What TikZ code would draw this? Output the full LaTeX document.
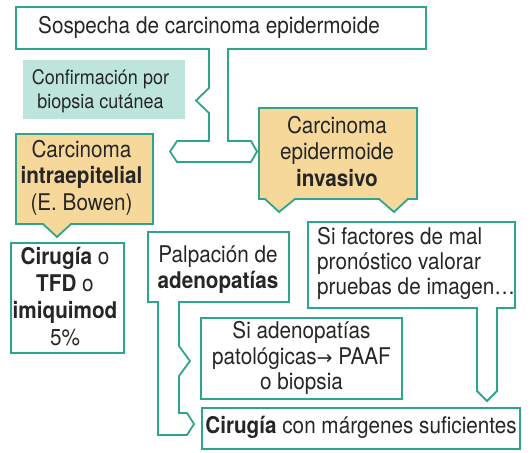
\documentclass[tikz,border=0pt]{standalone}
\usepackage{fontspec}
\setmainfont{TeX Gyre Heros}[FakeStretch=0.9]
\newfontfamily\arrowfont{DejaVu Sans}
\definecolor{tealline}{HTML}{2CA58C}
\definecolor{orangefill}{HTML}{F6D89A}
\definecolor{mintfill}{HTML}{BEE5DB}
\definecolor{ink}{HTML}{262626}
\begin{document}
\begin{tikzpicture}[x=1pt,y=-1pt,
  outline/.style={draw=tealline, line width=1.8pt, line join=miter},
  warmbox/.style={outline, fill=orangefill},
  plainbox/.style={outline, fill=white},
  txt/.style={inner sep=0pt, text=ink, align=center, font=\fontsize{23}{26.5}\selectfont}]
\useasboundingbox (0,0) rectangle (531,453);

% Confirmacion (filled, no border)
\fill[mintfill] (23,60) rectangle (185,119);

% Top box with connector to the two diagnoses
\path[plainbox] (16,7) -- (426,7) -- (426,49) -- (228,49) -- (228,141) -- (251,141)
  -- (257,151.5) -- (251,162) -- (177,162) -- (170,151.5) -- (177,141) -- (209,141)
  -- (209,113) -- (196,100.5) -- (209,88) -- (209,49) -- (16,49) -- cycle;

% Carcinoma intraepitelial
\path[warmbox] (16,134) -- (153,134) -- (153,224) -- (71,224) -- (57,237) -- (43,224)
  -- (16,224) -- cycle;

% Carcinoma invasivo
\path[warmbox] (259,108) -- (417,108) -- (417,199) -- (408,199) -- (394,212) -- (379,199)
  -- (295,199) -- (279,212) -- (265,199) -- (259,199) -- cycle;

% Cirugia o TFD
\path[plainbox] (11,243) rectangle (124,353);

% Palpacion with connector
\path[plainbox] (148,232) -- (289,232) -- (289,302) -- (179,302) -- (179,346) -- (190,361)
  -- (179,376) -- (179,413) -- (187,413) -- (194,424) -- (187,435) -- (158,435)
  -- (158,302) -- (148,302) -- cycle;

% Si factores with pointer
\path[plainbox] (308,222) -- (515,222) -- (515,308) -- (497,308) -- (497,391) -- (487,401)
  -- (477,391) -- (477,308) -- (308,308) -- cycle;

% Si adenopatias
\path[plainbox] (201,318) rectangle (402,399);

% Cirugia con margenes
\path[plainbox] (202,408) rectangle (520,449);

% Texts
\node[txt, anchor=base west] (sospecha) at (38,33.5) {Sospecha de carcinoma epidermoide};
\node[txt, font=\fontsize{20}{24.5}\selectfont] (confirm) at (100.5,91) {Confirmación por\\biopsia cutánea};
\node[txt] (intra) at (81.5,177.7) {Carcinoma\\\textbf{intraepitelial}\\(E. Bowen)};
\node[txt] (inva) at (337,151.3) {Carcinoma\\epidermoide\\\textbf{invasivo}};
\node[txt, font=\fontsize{23}{26.7}\selectfont] (cirtfd) at (65,296.6) {\textbf{Cirugía} o\\\textbf{TFD} o\\\textbf{imiquimod}\\5\%};
\node[txt, font=\fontsize{23}{26}\selectfont] (palp) at (218,269.6) {Palpación de\\\textbf{adenopatías}};
\node[txt, align=left, anchor=west, font=\fontsize{23}{25}\selectfont] (factores) at (317,263.9) {Si factores de mal\\pronóstico valorar\\pruebas de imagen…};
\node[txt, font=\fontsize{23}{25.5}\selectfont] (paaf) at (301.5,358.4) {Si adenopatías\\patológicas{\arrowfont\fontsize{19}{25.5}\selectfont →} PAAF\\o biopsia};
\node[txt, anchor=base] (cirmarg) at (361,433) {\textbf{Cirugía} con márgenes suficientes};
\end{tikzpicture}
\end{document}
